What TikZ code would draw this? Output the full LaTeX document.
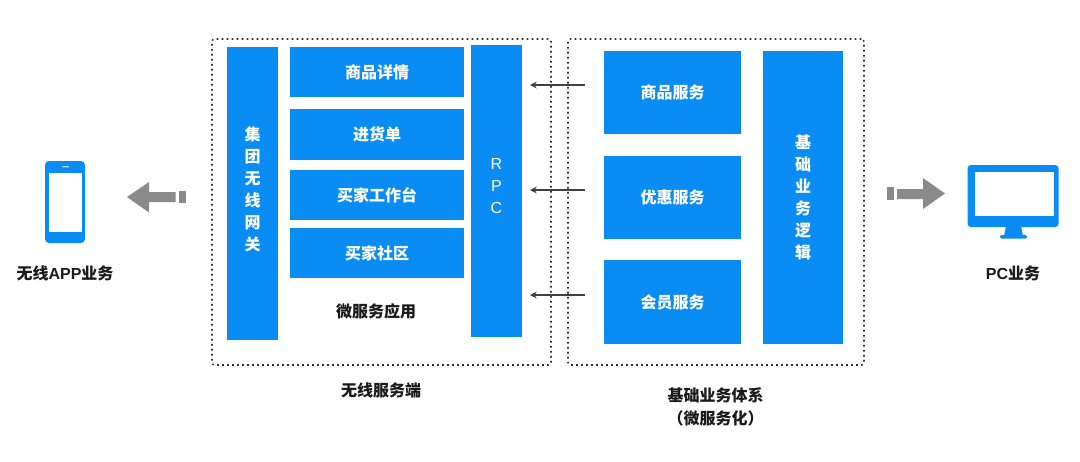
\documentclass[tikz,border=0pt]{standalone}
\usepackage{fontspec}
\setmainfont{Noto Sans CJK SC}
\newfontfamily\latinfont{Liberation Sans}
\definecolor{bblue}{HTML}{0A8CF5}
\definecolor{agray}{HTML}{8A8A8A}
\definecolor{tblack}{HTML}{1A1A1A}
\usetikzlibrary{arrows.meta}
\tikzset{
  bx/.style 2 args={fill=bblue,draw=none,text=white,font=\fontsize{12}{16.5}\selectfont\bfseries,align=center,inner sep=0pt,minimum width=#1*0.75pt,minimum height=#2*0.75pt},
  lbl/.style={text=tblack,font=\fontsize{12}{17.5}\selectfont\bfseries,align=center,inner sep=0pt},
  dotbox/.style={draw=black!80,line width=1.2pt,dash pattern=on 1.2pt off 2.55pt,rounded corners=2pt,inner sep=0pt,minimum width=#1*0.75pt},
  rpcarrow/.style={draw=black!75,line width=0.9pt,-{Stealth[length=5pt,width=5pt]}},
  blockarrow/.style={fill=agray,draw=none},
  devblue/.style={fill=bblue,draw=none}
}
\begin{document}
\begin{tikzpicture}[x=0.75pt,y=-0.75pt]
\useasboundingbox (0,0) rectangle (1080,461);
\fill[white] (0,0) rectangle (1080,461);
% dotted frames
\node[dotbox=339,minimum height=326*0.75pt] (wireless) at (381.5,202) {};
\node[dotbox=296,minimum height=326*0.75pt] (basis) at (716,202) {};
% left group
\node[bx={51}{293}] (gw) at (252.5,193.5) {集\\团\\无\\线\\网\\关\\[-8.5pt]};
\node[bx={174}{50}] (detail) at (377,72) {商品详情};
\node[bx={174}{51}] (order) at (377,134.5) {进货单};
\node[bx={174}{50}] (desk) at (377,195) {买家工作台};
\node[bx={174}{50}] (social) at (377,253) {买家社区};
\node[bx={51}{292}] (rpc) at (496.5,191) {\latinfont\mdseries R\\\latinfont\mdseries P\\\latinfont\mdseries C\\[-8.5pt]};
% right group
\node[bx={137}{83}] (goods) at (672.5,92.5) {商品服务};
\node[bx={137}{83}] (promo) at (672.5,197.5) {优惠服务};
\node[bx={137}{84}] (member) at (672.5,302) {会员服务};
\node[bx={80}{293}] (logic) at (803,197.5) {基\\础\\业\\务\\逻\\辑};
% labels
\node[lbl] (micro) at (376,311) {微服务应用};
\node[lbl] (wsrv) at (381,390) {无线服务端};
\node[lbl] (bsys) at (715.5,407) {基础业务体系\\（微服务化）};
\node[lbl] (app) at (65,273) {无线{\latinfont APP}业务};
\node[lbl] (pc) at (1013,273) {{\latinfont PC}业务};
% rpc arrows
\coordinate (a1) at (585,85);
\coordinate (a2) at (585,190);
\coordinate (a3) at (585,295);
\coordinate (b1) at (530,85);
\coordinate (b2) at (530,190);
\coordinate (b3) at (530,295);
\draw[rpcarrow] (a1) -- (b1);
\draw[rpcarrow] (a2) -- (b2);
\draw[rpcarrow] (a3) -- (b3);
% phone
\fill[devblue,rounded corners=3pt] (45,161) rectangle (85,243);
\fill[white] (49,172.5) rectangle (82,232);
\fill[white!70!bblue,rounded corners=0.5pt] (62,166) rectangle (69,167.4);
% left block arrow
\fill[blockarrow] (127,197) -- (149,182) -- (149,192) -- (175.5,192) -- (175.5,202) -- (149,202) -- (149,212.5) -- cycle;
\fill[blockarrow] (178.5,191) rectangle (185.5,203);
% right block arrow
\fill[blockarrow] (887,187) rectangle (893.5,200);
\fill[blockarrow] (897,189) -- (923,189) -- (923,178) -- (945,193.5) -- (923,209) -- (923,199) -- (897,199) -- cycle;
% monitor
\fill[devblue,rounded corners=2.5pt] (967.5,165) rectangle (1058.5,227);
\fill[white] (974.5,172) rectangle (1053.5,216);
\fill[devblue] (1006,226) -- (1021,226) -- (1023,236) -- (1004,236) -- cycle;
\fill[devblue,rounded corners=1pt] (1000,235) rectangle (1027,238.5);
\end{tikzpicture}
\end{document}
